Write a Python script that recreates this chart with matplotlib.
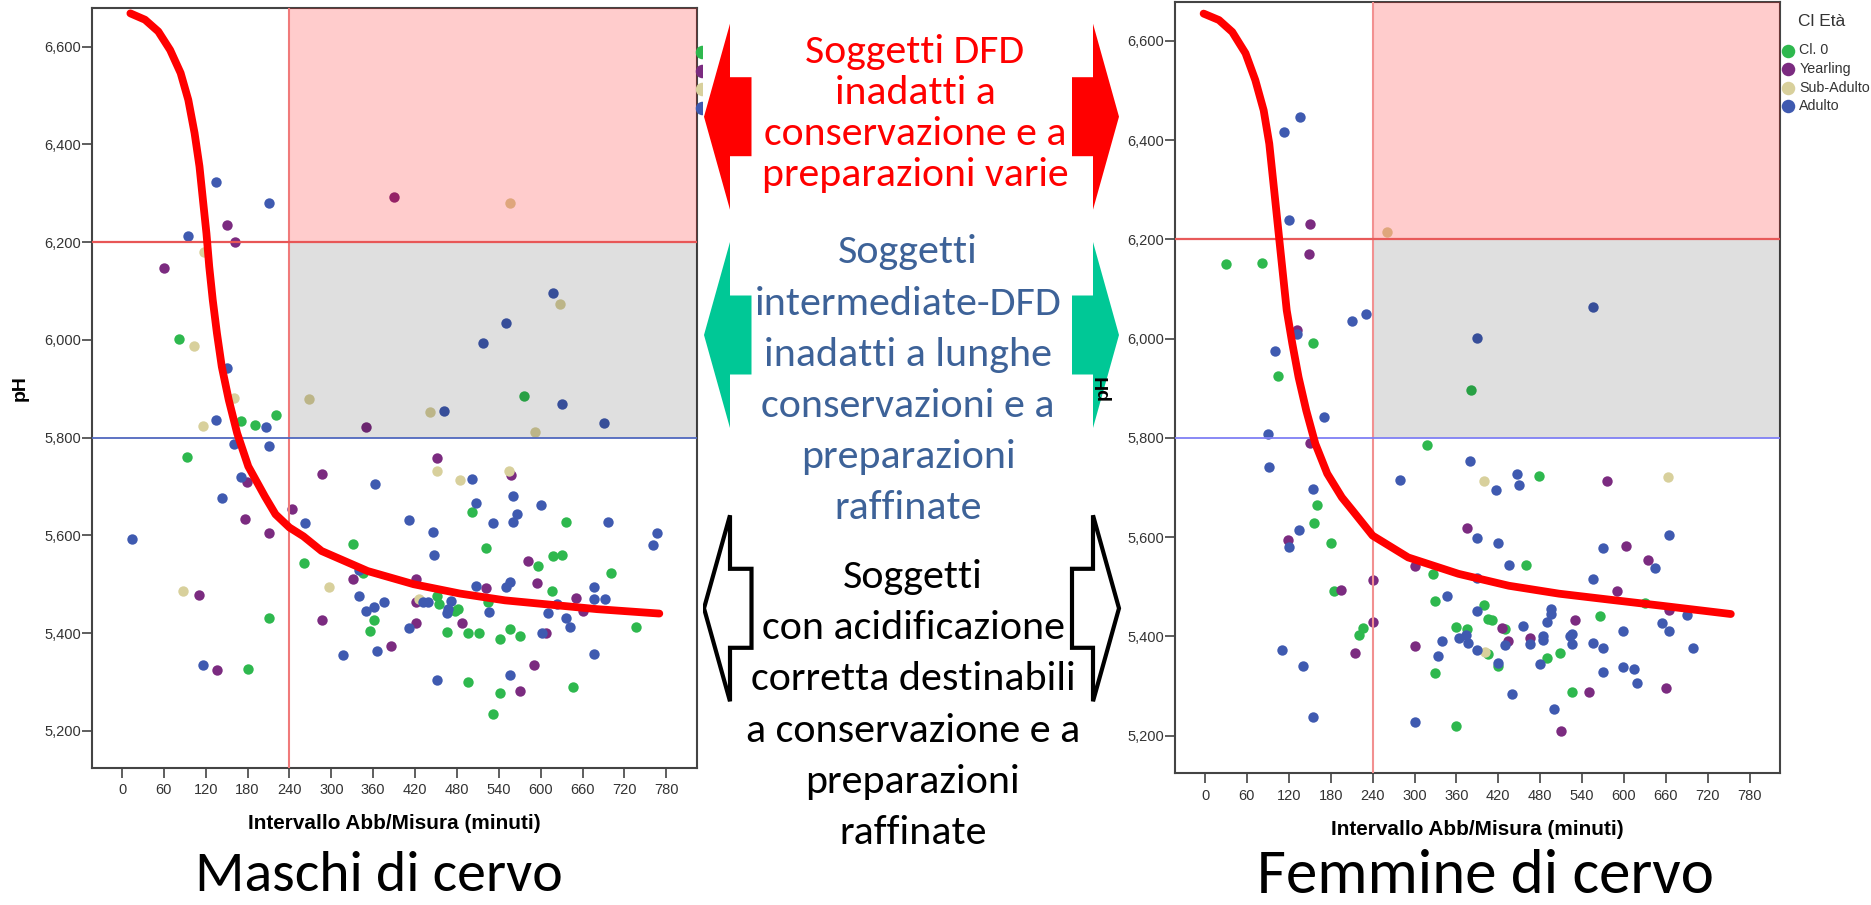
import matplotlib
matplotlib.use('Agg')
import matplotlib.pyplot as plt
from matplotlib import font_manager
from matplotlib.patches import Rectangle, Polygon
from matplotlib.ticker import FuncFormatter

fams = {f.name for f in font_manager.fontManager.ttflist}
narrow = 'Liberation Sans Narrow' if 'Liberation Sans Narrow' in fams else 'Liberation Sans'
calibri = 'Carlito' if 'Carlito' in fams else 'Lato'

# soglie
T_MIN = 240
PH_DFD = 6.2
PH_INT = 5.8

classi = ['Cl. 0', 'Yearling', 'Sub-Adulto', 'Adulto']
colori = ['#2EB84E', '#7B2B80', '#D8D09C', '#3F5AB0']

# ---- Maschi di cervo ----
m_cl0_x = [81, 576, 220, 171, 191, 93, 501, 636, 331, 522, 617, 631, 261, 596, 701, 345, 451, 454,
           477, 481, 524, 616, 211, 361, 355, 466, 496, 511, 541, 556, 571, 736, 181, 496, 646, 541, 531]
m_cl0_ph = [6.001, 5.886, 5.847, 5.833, 5.825, 5.761, 5.647, 5.627, 5.583, 5.574, 5.557, 5.559, 5.544,
            5.538, 5.523, 5.523, 5.476, 5.460, 5.445, 5.450, 5.463, 5.487, 5.431, 5.426, 5.405, 5.403,
            5.401, 5.400, 5.388, 5.408, 5.394, 5.412, 5.326, 5.300, 5.290, 5.278, 5.235]
m_year_x = [390, 150, 162, 60, 350, 451, 557, 286, 179, 243, 176, 211, 582, 331, 421, 594, 521, 110,
            421, 651, 661, 286, 422, 487, 607, 386, 136, 591, 571]
m_year_ph = [6.293, 6.235, 6.200, 6.147, 5.821, 5.758, 5.724, 5.725, 5.710, 5.654, 5.634, 5.604, 5.548,
             5.511, 5.511, 5.502, 5.492, 5.478, 5.463, 5.472, 5.445, 5.427, 5.420, 5.420, 5.401, 5.374,
             5.324, 5.335, 5.281]
m_sub_x = [556, 118, 627, 103, 161, 268, 441, 116, 592, 451, 555, 485, 297, 88, 426]
m_sub_ph = [6.280, 6.179, 6.074, 5.988, 5.881, 5.879, 5.853, 5.824, 5.811, 5.731, 5.731, 5.714, 5.495,
            5.487, 5.469]
m_ad_x = [135, 211, 95, 617, 551, 518, 150, 630, 461, 135, 207, 691, 161, 211, 501, 171, 362, 143, 561,
          507, 601, 566, 411, 262, 531, 561, 696, 15, 445, 767, 761, 447, 340, 507, 551, 556, 677, 340,
          376, 361, 350, 431, 438, 471, 467, 466, 526, 624, 611, 676, 692, 636, 642, 411, 602, 316, 365,
          677, 116, 556, 451]
m_ad_ph = [6.324, 6.280, 6.213, 6.095, 6.034, 5.994, 5.942, 5.868, 5.855, 5.836, 5.821, 5.830, 5.787,
           5.782, 5.716, 5.719, 5.705, 5.676, 5.681, 5.666, 5.662, 5.644, 5.632, 5.625, 5.626, 5.627,
           5.627, 5.592, 5.606, 5.604, 5.581, 5.559, 5.529, 5.497, 5.494, 5.504, 5.494, 5.475, 5.463,
           5.453, 5.446, 5.463, 5.464, 5.465, 5.450, 5.441, 5.444, 5.460, 5.441, 5.469, 5.469, 5.431,
           5.413, 5.411, 5.401, 5.356, 5.364, 5.358, 5.334, 5.315, 5.305]
m_curve_x = [12, 33, 52, 69, 84, 95, 104, 111, 116, 121, 125, 130, 136, 143, 153, 165, 181, 205, 220,
             240, 260, 286, 352, 418, 484, 549, 615, 681, 770]
m_curve_ph = [6.668, 6.655, 6.631, 6.593, 6.546, 6.491, 6.423, 6.355, 6.286, 6.218, 6.150, 6.082, 6.014,
              5.945, 5.877, 5.809, 5.741, 5.679, 5.643, 5.616, 5.598, 5.568, 5.527, 5.500, 5.481, 5.467,
              5.458, 5.449, 5.440]

# ---- Femmine di cervo ----
f_cl0_x = [30, 82, 155, 105, 381, 318, 479, 160, 156, 181, 460, 327, 184, 330, 400, 630, 565, 405, 411,
           430, 360, 375, 226, 221, 405, 509, 490, 420, 330, 525, 359]
f_cl0_ph = [6.151, 6.153, 5.991, 5.924, 5.896, 5.786, 5.723, 5.665, 5.629, 5.589, 5.544, 5.526, 5.492,
            5.472, 5.463, 5.467, 5.442, 5.434, 5.432, 5.415, 5.418, 5.414, 5.417, 5.403, 5.365, 5.366,
            5.357, 5.340, 5.326, 5.287, 5.219]
f_year_x = [150, 149, 132, 150, 576, 119, 375, 603, 635, 300, 240, 195, 590, 664, 530, 425, 240, 465,
            434, 300, 215, 550, 660, 510]
f_year_ph = [6.230, 6.170, 6.017, 5.790, 5.714, 5.595, 5.619, 5.583, 5.553, 5.541, 5.514, 5.494, 5.492,
             5.453, 5.433, 5.416, 5.428, 5.397, 5.390, 5.380, 5.367, 5.287, 5.296, 5.209]
f_sub_x = [260, 400, 663, 401]
f_sub_ph = [6.214, 5.714, 5.722, 5.368]
f_ad_x = [136, 113, 120, 555, 230, 210, 132, 390, 100, 170, 90, 91, 380, 279, 447, 450, 417, 155, 135,
          120, 390, 420, 665, 570, 644, 435, 390, 555, 346, 390, 495, 495, 690, 490, 655, 455, 665, 599,
          364, 374, 376, 340, 484, 484, 465, 430, 522, 525, 525, 555, 570, 699, 110, 390, 334, 140, 420,
          480, 599, 614, 570, 619, 439, 500, 155, 300]
f_ad_ph = [6.447, 6.416, 6.240, 6.064, 6.050, 6.035, 6.010, 6.001, 5.976, 5.843, 5.807, 5.741, 5.754,
           5.716, 5.728, 5.706, 5.694, 5.696, 5.615, 5.580, 5.599, 5.589, 5.605, 5.578, 5.538, 5.544,
           5.518, 5.516, 5.481, 5.451, 5.455, 5.445, 5.444, 5.428, 5.427, 5.420, 5.410, 5.410, 5.397,
           5.402, 5.386, 5.390, 5.400, 5.393, 5.385, 5.383, 5.400, 5.405, 5.385, 5.386, 5.376, 5.376,
           5.373, 5.373, 5.361, 5.340, 5.347, 5.344, 5.338, 5.334, 5.328, 5.305, 5.284, 5.254, 5.238,
           5.227]
f_curve_x = [-2, 20, 39, 58, 72, 84, 92, 97, 102, 107, 112, 117, 125, 134, 145, 158, 175, 196, 211, 240,
             291, 363, 435, 507, 579, 652, 753]
f_curve_ph = [6.655, 6.642, 6.618, 6.575, 6.521, 6.460, 6.393, 6.326, 6.259, 6.191, 6.124, 6.057, 5.990,
              5.922, 5.855, 5.788, 5.728, 5.680, 5.654, 5.603, 5.559, 5.526, 5.502, 5.486, 5.474, 5.462,
              5.445]

red_lines = ['Soggetti DFD', 'inadatti a', 'conservazione e a', 'preparazioni varie']
blue_lines = ['Soggetti', 'intermediate-DFD', 'inadatti a lunghe', 'conservazioni e a',
              'preparazioni', 'raffinate']
black_lines = ['Soggetti', 'con acidificazione', 'corretta destinabili', 'a conservazione e a',
               'preparazioni', 'raffinate']

W, H = 1871, 905
fig = plt.figure(figsize=(W / 100, H / 100), dpi=100)
fig.patch.set_facecolor('white')


def pannello(rect, serie, cx, cy, vcol, hcol, bcol, leg_anchor):
    ax = fig.add_axes(rect)
    for (xs, ys), lab, col in zip(serie, classi, colori):
        ax.scatter(xs, ys, s=56, color=col, linewidths=0, label=lab, zorder=2)
    ax.set_xlim(-43, 824)
    ax.set_ylim(5.124, 6.679)
    x1, y1 = 824, 6.679
    ax.add_patch(Rectangle((T_MIN, PH_DFD), x1 - T_MIN, y1 - PH_DFD, facecolor='red', alpha=0.2,
                           lw=0, zorder=3))
    ax.add_patch(Rectangle((T_MIN, PH_INT), x1 - T_MIN, PH_DFD - PH_INT, facecolor='black', alpha=0.125,
                           lw=0, zorder=3))
    ax.axvline(T_MIN, color=vcol, lw=1.5, zorder=4)
    ax.axhline(PH_DFD, color=hcol, lw=1.6, zorder=4)
    ax.axhline(PH_INT, color=bcol, lw=1.3, zorder=4)
    ax.plot(cx, cy, color='#FF0000', lw=5.6, solid_capstyle='round', solid_joinstyle='round', zorder=5)

    ax.set_xticks(range(0, 781, 60))
    ax.set_yticks([5.2, 5.4, 5.6, 5.8, 6.0, 6.2, 6.4, 6.6])
    ax.yaxis.set_major_formatter(FuncFormatter(lambda v, p: f'{v:.3f}'.replace('.', ',')))
    tsize = 12 if narrow == 'Liberation Sans Narrow' else 10.5
    ax.tick_params(direction='out', length=7, width=1.1, color='#333333', labelcolor='#333333',
                   labelsize=tsize)
    ax.tick_params(axis='y', pad=1)
    ax.tick_params(axis='x', pad=4)
    for lab in ax.get_xticklabels() + ax.get_yticklabels():
        lab.set_family(narrow)
    for sp in ax.spines.values():
        sp.set_color('#444444')
        sp.set_linewidth(1.5)
    ax.set_xlabel('Intervallo Abb/Misura (minuti)', family=narrow, weight='bold', fontsize=14)
    ax.set_ylabel('pH', family=narrow, weight='bold', fontsize=14)
    ax.xaxis.set_label_coords(0.5, -0.06)
    ax.yaxis.set_label_coords(-0.105, 0.5)
    leg = ax.legend(loc='upper left', bbox_to_anchor=leg_anchor, frameon=False,
                    markerscale=1.3, handlelength=0.8, handletextpad=0.37, labelspacing=0.32,
                    borderaxespad=0, borderpad=0, prop={'family': 'Liberation Sans', 'size': 10.3})
    for t in leg.get_texts():
        t.set_color('#333333')
    return ax


ax_m = pannello([92 / W, 1 - 768 / H, 605 / W, 760 / H],
                [(m_cl0_x, m_cl0_ph), (m_year_x, m_year_ph), (m_sub_x, m_sub_ph), (m_ad_x, m_ad_ph)],
                m_curve_x, m_curve_ph, '#F07A7A', '#E85656', '#5068BE', (0.9983, 0.9516))
ax_m.set_zorder(1)

ax_f = pannello([1175 / W, 1 - 773.3 / H, 605.4 / W, 771.6 / H],
                [(f_cl0_x, f_cl0_ph), (f_year_x, f_year_ph), (f_sub_x, f_sub_ph), (f_ad_x, f_ad_ph)],
                f_curve_x, f_curve_ph, '#F29090', '#E85A5A', '#7F7FF5', (1.0038, 0.9459))
ax_f.set_zorder(3)
ax_f.text(1.0296, 0.9741, 'Cl Età', transform=ax_f.transAxes, ha='left', va='center',
          family='Liberation Sans', fontsize=12.5, color='#333333')

# pannello centrale (coordinate in pixel)
mid = fig.add_axes([703 / W, 0, 469 / W, 1])
mid.set_zorder(2)
mid.set_xlim(703, 1172)
mid.set_ylim(H, 0)
mid.set_xticks([])
mid.set_yticks([])
for sp in mid.spines.values():
    sp.set_visible(False)
mid.set_facecolor('white')


def freccia(cy, tip, base, end, face, edge, lw):
    hh, sh = 93, 39.5
    pts = [(tip, cy), (base, cy - hh), (base, cy - sh), (end, cy - sh),
           (end, cy + sh), (base, cy + sh), (base, cy + hh)]
    mid.add_patch(Polygon(pts, closed=True, facecolor=face, edgecolor=edge, lw=lw, joinstyle='miter'))


for cy, face, edge, lw in [(116.7, '#FF0000', '#FF0000', 0), (335, '#00C896', '#00C896', 0),
                           (608.3, 'white', 'black', 3)]:
    freccia(cy, 704, 730, 751.5, face, edge, lw)
    freccia(cy, 1119, 1093, 1072, face, edge, lw)

renderer = fig.canvas.get_renderer()


def blocco(righe, x, y0, step, col, widest):
    txts = [mid.text(x, y0 + i * step, r, ha='center', va='baseline', color=col,
                     family=calibri, fontsize=26) for i, r in enumerate(righe)]
    w = max(t.get_window_extent(renderer).width for t in txts)
    for t in txts:
        t.set_fontsize(26 * widest / w)


blocco(red_lines, 915, 63.3, 40.8, '#FF0000', 307.6)
blocco(blue_lines, 908, 263.3, 51.2, '#3D6298', 306.7)
blocco(black_lines, 913, 587.7, 51.3, 'black', 334.7)

for titolo, xc, yb, wid in [('Maschi di cervo', 379, 891, 367), ('Femmine di cervo', 1485, 893, 457)]:
    t = fig.text(xc / W, 1 - yb / H, titolo, ha='center', va='baseline', family=calibri, fontsize=36)
    t.set_fontsize(36 * wid / t.get_window_extent(renderer).width)

for ax in (ax_m, ax_f):
    lab = ax.xaxis.label
    lab.set_fontsize(14 * 293 / lab.get_window_extent(renderer).width)

fig.savefig('out.png', dpi=100, facecolor='white')
